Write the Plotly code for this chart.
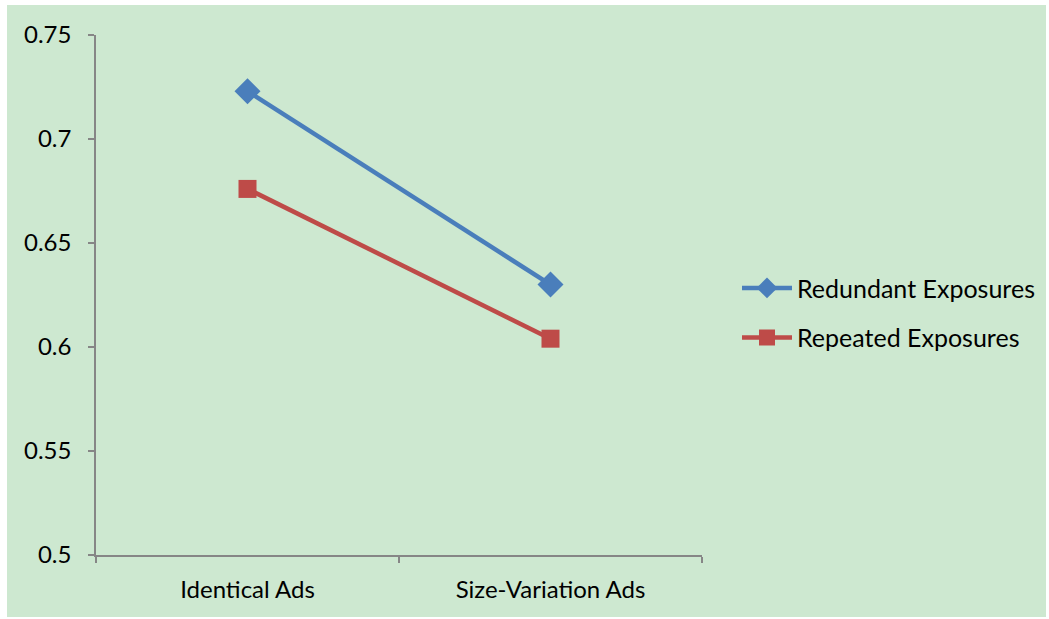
import plotly.graph_objects as go

# Ad format conditions on the category axis
categories = ["Identical Ads", "Size-Variation Ads"]

# Mean scores per exposure type
redundant = [0.723, 0.630]
repeated = [0.676, 0.604]

y_ticks = [0.5, 0.55, 0.6, 0.65, 0.7, 0.75]
y_tick_text = ["0.5", "0.55", "0.6", "0.65", "0.7", "0.75"]

BLUE = "#4A7EBB"
RED = "#BE4B48"
GREEN_BG = "#CDE8D0"
AXIS = "#868686"
FONT = "Lato"
FS = 24

fig = go.Figure()
fig.add_trace(go.Scatter(
    x=categories, y=redundant, name="Redundant Exposures",
    mode="lines+markers", legendgroup="a",
    line=dict(color=BLUE, width=4.5),
    marker=dict(symbol="diamond", size=20, color=BLUE),
))
fig.add_trace(go.Scatter(
    x=categories, y=repeated, name="Repeated Exposures",
    mode="lines+markers", legendgroup="b",
    line=dict(color=RED, width=4.5),
    marker=dict(symbol="square", size=18, color=RED),
))

# Green chart panel behind the plot area (paper coordinates extend past the plot)
L, R, T, B = 96, 347, 35, 64
W, H = 1049, 619
pw, ph = W - L - R, H - T - B
fig.add_shape(
    type="rect", xref="paper", yref="paper", layer="below",
    x0=(7 - L) / pw, x1=(1046 - L) / pw,
    y0=(H - B - 617) / ph, y1=(H - B - 5) / ph,
    fillcolor=GREEN_BG, line=dict(width=0),
)

fig.update_layout(
    width=W, height=H,
    margin=dict(l=L, r=R, t=T, b=B, autoexpand=False),
    paper_bgcolor="white",
    plot_bgcolor=GREEN_BG,
    font=dict(family=FONT, size=FS, color="#000000"),
    showlegend=True,
    legend=dict(
        x=(737 - L) / pw, xanchor="left",
        y=0.466, yanchor="middle",
        bgcolor="rgba(0,0,0,0)",
        font=dict(family=FONT, size=25, color="#000000"),
        tracegroupgap=14,
        itemwidth=50,
    ),
    xaxis=dict(
        type="category", range=[-0.5, 1.5],
        showgrid=False, zeroline=False,
        showline=True, linecolor=AXIS, linewidth=1.5,
        ticks="outside", tickson="boundaries", ticklen=6, tickcolor=AXIS, tickwidth=1.5,
        ticklabelstandoff=12,
        tickfont=dict(family=FONT, size=FS),
    ),
    yaxis=dict(
        range=[0.5, 0.75], tickvals=y_ticks, ticktext=y_tick_text,
        showgrid=False, zeroline=False,
        showline=True, linecolor=AXIS, linewidth=1.5,
        ticks="outside", ticklen=6, tickcolor=AXIS, tickwidth=1.5,
        ticklabelstandoff=12,
        tickfont=dict(family=FONT, size=FS),
    ),
)

fig.write_html("out.html")
